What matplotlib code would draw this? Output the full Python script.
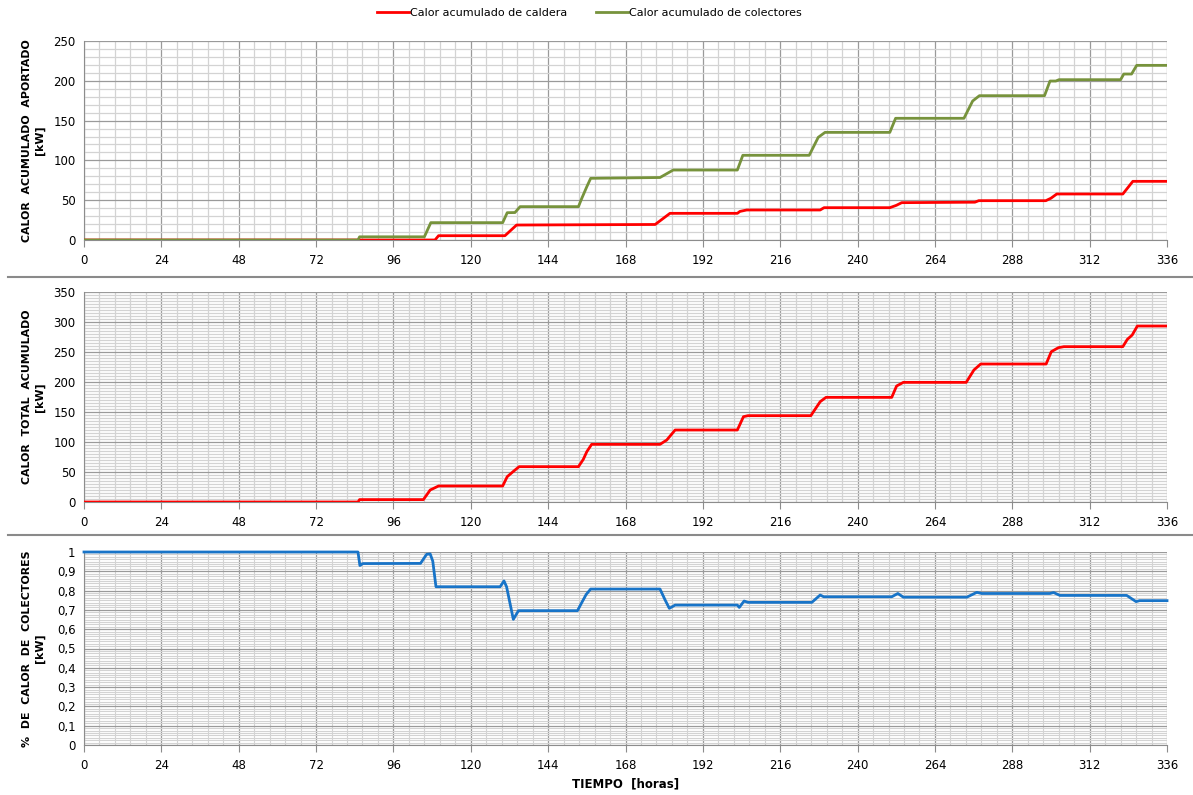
import matplotlib.pyplot as plt
import numpy as np
from matplotlib.ticker import MultipleLocator, FuncFormatter
from matplotlib.lines import Line2D

# calor acumulado de colectores (horas, kW)
colect_h = [0, 85, 85.5, 105.6, 107.6, 129.9, 131.3, 133.7, 135.3, 153.4, 154.4, 156, 157.2,
            178.7, 182.8, 202.7, 204.4, 225, 227.8, 229.9, 250, 251.8, 273, 275.7, 277.8,
            298, 299.7, 301.5, 302.5, 321.6, 322.6, 325, 326.6, 336]
colect_v = [0, 0, 4, 4, 21.8, 21.8, 34.3, 34.5, 41.9, 41.9, 52, 67, 77.5,
            78.5, 87.9, 87.9, 106.4, 106.4, 129, 135.2, 135.2, 152.9, 152.9, 174.6, 181.3,
            181.3, 199.7, 199.7, 201.4, 201.4, 208.5, 208.5, 219.4, 219.4]

# calor acumulado de caldera
cald_h = [0, 108.9, 110, 130.6, 134.2, 177.2, 181.8, 202.7, 203.5, 205.6, 228.4, 229.6, 250,
          252, 253.7, 276.4, 277.6, 298.4, 300, 301.8, 322.3, 325.4, 336]
cald_v = [0, 0, 5.4, 5.4, 18.8, 19.5, 33.5, 33.5, 35.9, 37.7, 37.7, 40.6, 40.6,
          43.5, 46.9, 47.5, 49.4, 49.4, 52.5, 57.8, 57.8, 73.7, 73.7]

# calor total acumulado
total_h = [0, 85, 85.5, 105.3, 107.4, 108.5, 110, 129.9, 131.3, 133.1, 135, 153.4, 154.9, 156,
           157.5, 178.7, 180.8, 183.4, 202.7, 204.6, 206, 225.5, 228.4, 230.2, 250.6, 252.1,
           254.2, 273.7, 276.1, 278.2, 298.5, 300.1, 302.3, 304, 322.3, 323.7, 325.2, 326.8, 336]
total_v = [0, 0, 4, 4, 20, 22.8, 26.7, 26.7, 42.2, 50.5, 58.9, 58.9, 71, 83.9,
           96.1, 96.1, 103.3, 120, 120, 142.2, 143.9, 143.9, 167.2, 174.4, 174.4, 193.3,
           199.4, 199.4, 220, 230, 230, 250.5, 257.2, 258.9, 258.9, 271.1, 278.3, 293.3, 293.3]

# % de calor de colectores
frac_h = [0, 85, 85.6, 86.5, 104.4, 106.3, 107.4, 108.2, 109.2, 129.1, 130.3, 131.1, 133.2,
          134.8, 153.1, 154.4, 155.8, 157.2, 178.7, 180.3, 181.6, 183.4, 202.7, 203.3, 204.8,
          206, 225.8, 228.4, 229.5, 250.6, 252.5, 254.2, 273.9, 277, 278.5, 299.7, 300.8,
          302.8, 323.5, 326.4, 327.5, 336]
frac_v = [1, 1, 0.93, 0.94, 0.941, 0.988, 0.99, 0.953, 0.82, 0.82, 0.85, 0.82, 0.651,
          0.696, 0.696, 0.737, 0.78, 0.808, 0.808, 0.751, 0.708, 0.725, 0.725, 0.713, 0.746,
          0.739, 0.739, 0.777, 0.768, 0.768, 0.785, 0.766, 0.766, 0.791, 0.785, 0.785, 0.79,
          0.775, 0.775, 0.743, 0.748, 0.748]

RED = "#FF0000"
GREEN = "#77933C"
BLUE = "#1874C8"

fig = plt.figure(figsize=(11.93, 7.95), dpi=100)

left, width = 84 / 1193, 1083 / 1193
ax1 = fig.add_axes([left, 1 - 240 / 795, width, 199 / 795])
ax2 = fig.add_axes([left, 1 - 502 / 795, width, 210 / 795])
ax3 = fig.add_axes([left, 1 - 745 / 795, width, 193 / 795])


def style_axis(ax, ymax, ymajor, yminor, minor_lw=0.9):
    ax.set_xlim(0, 336)
    ax.set_ylim(0, ymax)
    ax.xaxis.set_major_locator(MultipleLocator(24))
    ax.xaxis.set_minor_locator(MultipleLocator(4.8))
    ax.yaxis.set_major_locator(MultipleLocator(ymajor))
    ax.yaxis.set_minor_locator(MultipleLocator(yminor))
    ax.grid(which="minor", color="#d3d3d3", linewidth=minor_lw)
    ax.grid(which="major", color="#9a9a9a", linewidth=0.9)
    ax.set_axisbelow(True)
    for s in ["top", "right"]:
        ax.spines[s].set_visible(False)
    ax.spines["left"].set_color("#8c8c8c")
    ax.spines["bottom"].set_color("#8c8c8c")
    ax.tick_params(which="major", axis="x", length=5, color="#8c8c8c", labelsize=8.5, pad=5)
    ax.tick_params(which="major", axis="y", length=0, labelsize=8.5, pad=6)
    ax.tick_params(which="minor", length=0)


style_axis(ax1, 250, 50, 10)
style_axis(ax2, 350, 50, 5)
style_axis(ax3, 1, 0.1, 0.0125, minor_lw=0.8)
ax3.yaxis.set_major_formatter(
    FuncFormatter(lambda v, p: ("%g" % round(v, 2)).replace(".", ",")))

ax1.plot(cald_h, cald_v, color=RED, lw=2, zorder=3)
ax1.plot(colect_h, colect_v, color=GREEN, lw=2, zorder=3)
ax2.plot(total_h, total_v, color=RED, lw=2, zorder=3)
ax3.plot(frac_h, frac_v, color=BLUE, lw=2, zorder=3, clip_on=False)

ylab = dict(fontsize=7.9, fontweight="bold", linespacing=1.3)
ax1.set_ylabel("CALOR  ACUMULADO  APORTADO\n[kW]", **ylab)
ax2.set_ylabel("CALOR  TOTAL  ACUMULADO\n[kW]", **ylab)
ax3.set_ylabel("%  DE  CALOR  DE  COLECTORES\n[kW]", **ylab)
for ax in (ax1, ax2, ax3):
    ax.yaxis.set_label_coords(-0.036, 0.5)
ax3.set_xlabel("TIEMPO  [horas]", fontsize=8.5, fontweight="bold", labelpad=4)

# separator lines between panels
for yy in (277, 535):
    fig.add_artist(Line2D([8 / 1193, 1], [1 - yy / 795, 1 - yy / 795],
                          color="#8a8a8a", lw=1.5))

handles = [Line2D([], [], color=RED, lw=2), Line2D([], [], color=GREEN, lw=2)]
fig.legend(handles, ["Calor acumulado de caldera", "Calor acumulado de colectores"],
           loc="center", bbox_to_anchor=(0.494, 1 - 13 / 795), ncol=2, frameon=False,
           fontsize=8, handlelength=2.9, handletextpad=0.1, columnspacing=2.6)

fig.savefig("out.png", dpi=100)
